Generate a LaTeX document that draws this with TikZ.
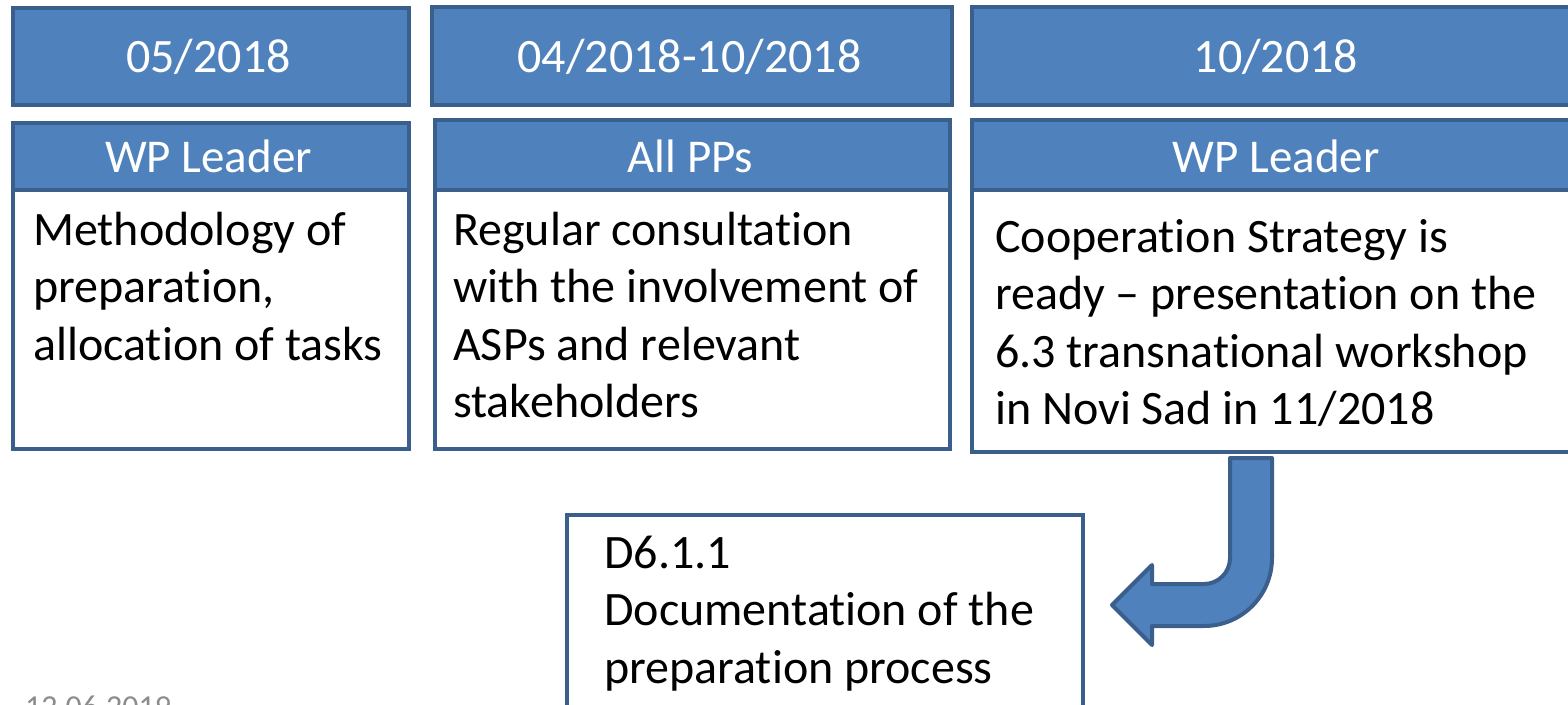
\documentclass[tikz,border=0pt]{standalone}
\usepackage{fontspec}
\setmainfont{Carlito}[Ligatures=NoCommon]
\definecolor{bfill}{HTML}{4F81BD}
\definecolor{bline}{HTML}{3A5F8C}
\definecolor{dategray}{HTML}{8C8C8C}
\begin{document}
\begin{tikzpicture}[x=1pt,y=-1pt,
  bluebox/.style={draw=bline, fill=bfill, line width=4pt, inner sep=0pt, anchor=north west},
  whitebox/.style={draw=bline, fill=white, line width=4pt, inner sep=0pt, anchor=north west},
  datetxt/.style={anchor=base, text=white, inner sep=0pt, font=\fontsize{48}{58}\selectfont},
  hdrtxt/.style={anchor=base, text=white, inner sep=0pt, font=\fontsize{47}{58}\selectfont},
  bodytxt/.style={anchor=base west, inner sep=0pt, align=flush left, text width=700pt, font=\fontsize{48}{57.5}\selectfont},
  bendarrow/.style={draw=bline, fill=bfill, line width=4pt, line join=round}
]
\useasboundingbox (0,0) rectangle (1568,704);
\clip (0,0) rectangle (1568,704);

% column 1
\node[bluebox, minimum width=396pt, minimum height=97pt] (d1) at (11,6) {};
\node[bluebox, minimum width=396pt, minimum height=67pt] (h1) at (11,121) {};
\node[whitebox, minimum width=396pt, minimum height=259pt] (b1) at (11,188) {};
\node[datetxt] (dt1) at (208.5,72) {05/2018};
\node[hdrtxt] (ht1) at (208.5,172) {WP Leader};
\node[bodytxt] (bt1) at (33,245) {Methodology of\\preparation,\\allocation of tasks};

% column 2
\node[bluebox, minimum width=520pt, minimum height=98pt] (d2) at (430,5) {};
\node[bluebox, minimum width=515pt, minimum height=70pt] (h2) at (433,118) {};
\node[whitebox, minimum width=515pt, minimum height=259pt] (b2) at (433,188) {};
\node[datetxt] (dt2) at (689.5,72) {04/2018-10/2018};
\node[hdrtxt] (ht2) at (690.5,172) {All PPs};
\node[bodytxt] (bt2) at (453,245) {Regular consultation\\with the involvement of\\ASPs and relevant\\stakeholders};

% column 3
\node[bluebox, minimum width=612pt, minimum height=98pt] (d3) at (970,5) {};
\node[bluebox, minimum width=612pt, minimum height=70pt] (h3) at (970,118) {};
\node[whitebox, minimum width=612pt, minimum height=262pt] (b3) at (970,188) {};
\node[datetxt] (dt3) at (1276,72) {10/2018};
\node[hdrtxt] (ht3) at (1276,172) {WP Leader};
\node[bodytxt] (bt3) at (995,252) {Cooperation Strategy is\\ready -- presentation on the\\6.3 transnational workshop\\in Novi Sad in 11/2018};

% deliverable box
\node[whitebox, minimum width=516pt, minimum height=220pt] (dl) at (565,513) {};
\node[bodytxt] (dlt) at (604,568) {D6.1.1\\Documentation of the\\preparation process};

% bent arrow
\draw[bendarrow] (1230,458) -- (1272,458) -- (1272,558)
  .. controls (1272,595.6) and (1241.6,626) .. (1204,626)
  -- (1152,626) -- (1152,645) -- (1112,605) -- (1152,565) -- (1152,584)
  -- (1204,584) .. controls (1218.4,584) and (1230,572.4) .. (1230,558) -- cycle;

% footer date
\node[anchor=base west, inner sep=0pt, text=dategray, font=\fontsize{32}{38}\selectfont] (fd) at (25,717) {12.06.2019};
\end{tikzpicture}
\end{document}
